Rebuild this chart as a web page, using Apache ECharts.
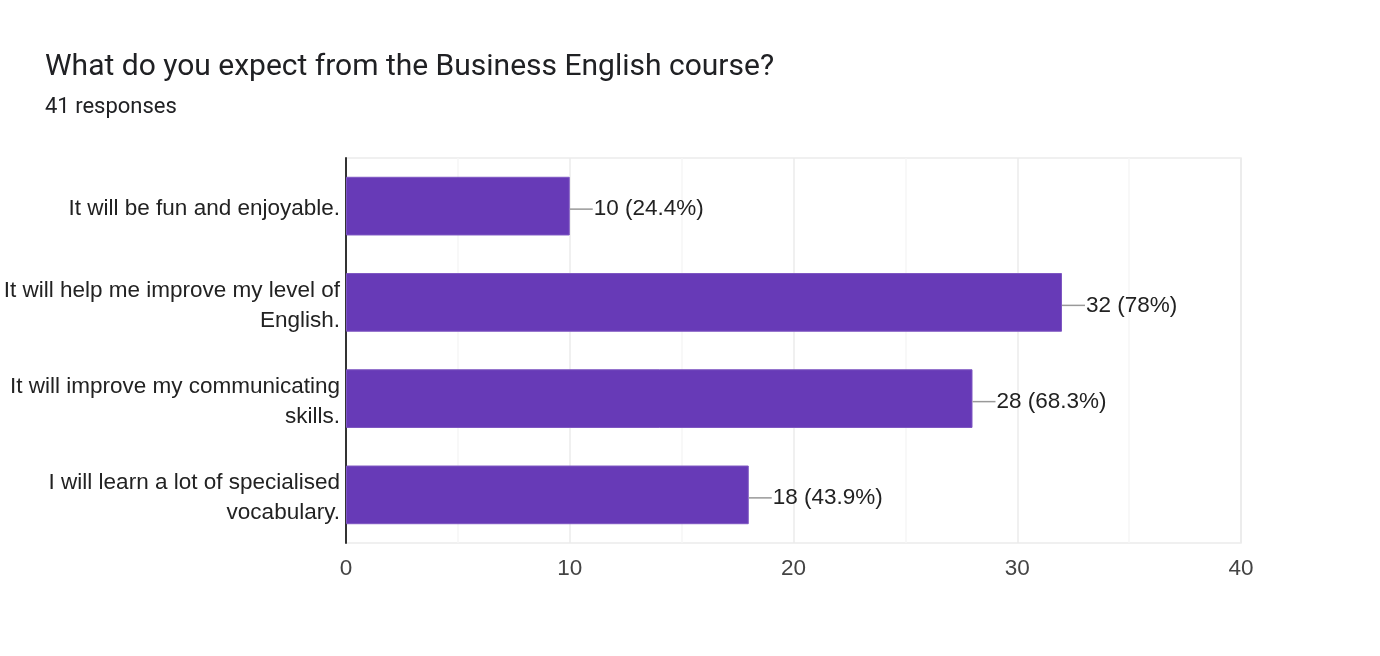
<!DOCTYPE html>
<html>
<head>
<meta charset="utf-8">
<script src="https://cdn.jsdelivr.net/npm/echarts@6/dist/echarts.min.js"></script>
<style>
  html, body { margin: 0; padding: 0; background: #fff; }
  #chart { width: 1380px; height: 656px; }
</style>
</head>
<body>
<div id="chart"></div>
<script>
// question answers, top to bottom
const categories = [
    'It will be fun and enjoyable.',
    'It will help me improve my level of\nEnglish.',
    'It will improve my communicating\nskills.',
    'I will learn a lot of specialised\nvocabulary.'
];
const counts = [10, 32, 28, 18];
const totalResponses = 41;
const xTicks = [0, 10, 20, 30, 40];

let myChart = echarts.init(document.getElementById('chart'));

function pct(v) {
    let p = (v / totalResponses * 100).toFixed(1);
    return p.replace(/\.0$/, '');
}

let option = {
    animation: false,
    title: [
        {
            text: 'What do you expect from the Business English course?',
            left: 45,
            top: 52,
            padding: 0,
            textStyle: {
                fontFamily: 'Roboto',
                fontWeight: 'normal',
                fontSize: 30,
                color: '#202124'
            }
        },
        {
            text: totalResponses + ' responses',
            left: 45,
            top: 96,
            padding: 0,
            textStyle: {
                fontFamily: 'Roboto',
                fontWeight: 'normal',
                fontSize: 22,
                color: '#202124'
            }
        }
    ],
    grid: {
        left: 346,
        right: 139,
        top: 158,
        bottom: 113,
        show: true,
        borderColor: '#ebebeb',
        borderWidth: 1.5
    },
    xAxis: {
        type: 'value',
        min: xTicks[0],
        max: xTicks[xTicks.length - 1],
        interval: 10,
        axisLine: { show: false },
        axisTick: { show: false },
        axisLabel: {
            margin: 14,
            fontFamily: 'Liberation Sans',
            fontSize: 22.5,
            color: '#444'
        },
        splitLine: { lineStyle: { color: '#ebebeb', width: 1.5 } },
        minorTick: { show: false, splitNumber: 2 },
        minorSplitLine: { show: true, lineStyle: { color: '#f6f6f6', width: 1.5 } }
    },
    yAxis: {
        type: 'category',
        inverse: true,
        data: categories,
        axisLine: { lineStyle: { color: '#333', width: 2 } },
        axisTick: { show: false },
        axisLabel: {
            margin: 6,
            align: 'right',
            // small empty first line nudges the text down a little
            formatter: function (v) {
                return '{s|}\n' + v.split('\n').map(function (t) {
                    return '{a|' + t + '}';
                }).join('\n');
            },
            rich: {
                s: { height: 6, lineHeight: 6, fontSize: 1 },
                a: {
                    fontFamily: 'Liberation Sans',
                    fontSize: 22.5,
                    lineHeight: 30,
                    color: '#222',
                    align: 'right'
                }
            }
        }
    },
    series: [
        {
            type: 'bar',
            data: counts,
            barWidth: '61%',
            itemStyle: {
                color: '#673ab7',
                borderColor: '#7e57c2',
                borderWidth: 1
            },
            label: {
                show: true,
                position: 'right',
                distance: 0,
                offset: [0, 3],
                formatter: function (p) {
                    return '{line|}{v|' + p.value + ' (' + pct(p.value) + '%)}';
                },
                rich: {
                    line: {
                        width: 23,
                        height: 1.5,
                        backgroundColor: '#999'
                    },
                    v: {
                        fontFamily: 'Liberation Sans',
                        fontSize: 22.5,
                        color: '#222',
                        padding: [0, 0, 0, 1]
                    }
                }
            }
        }
    ]
};
myChart.setOption(option);
</script>
</body>
</html>
